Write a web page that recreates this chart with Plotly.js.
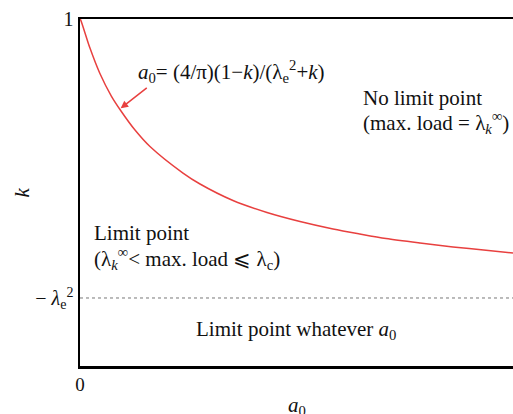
<!DOCTYPE html>
<html>
<head>
<meta charset="utf-8">
<script src="https://cdn.plot.ly/plotly-3.0.1.min.js"></script>
<style>html,body{margin:0;padding:0;background:#fff;}#chart{width:513px;height:414px;}</style>
</head>
<body>
<div id="chart"></div>
<script>
// values
const a0Values = [0, 0.011, 0.148, 0.301, 0.479, 0.627, 0.841, 1.070, 1.575, 1.835, 2.339, 2.859, 3.364, 3.869, 4.281, 4.679, 5.199, 5.703, 6.208, 6.621];
const kValues  = [1, 0.994, 0.837, 0.689, 0.556, 0.470, 0.360, 0.265, 0.112, 0.049, -0.046, -0.115, -0.167, -0.210, -0.239, -0.265, -0.291, -0.314, -0.333, -0.349];
const lambdaE2 = 0.608;        // level of the dotted line (k = -λe²)
const xMax = 6.621;
const yTickVals = [1, -lambdaE2];
const yTickText = ['1', '− <i>λ</i><sub>e</sub><sup>2</sup>'];
const xTickVals = [0];
const xTickText = ['0'];

const FONT = 'Liberation Serif, Times New Roman, serif';
const RED = '#e8403f';
const TXT = 21;

const traces = [
  {x: a0Values, y: kValues, type: 'scatter', mode: 'lines',
   line: {color: RED, width: 1.5, shape: 'spline', smoothing: 0.8}, hoverinfo: 'skip', showlegend: false}
];

const layout = {
  width: 513, height: 414,
  margin: {l: 80, r: 0, t: 19, b: 48},
  paper_bgcolor: '#fff', plot_bgcolor: '#fff',
  font: {family: FONT, size: TXT, color: '#111'},
  showlegend: false,
  xaxis: {range: [0, xMax], showgrid: false, zeroline: false,
          showline: true, linecolor: '#000', linewidth: 2.5, mirror: true,
          tickvals: xTickVals, ticktext: xTickText, ticks: '', ticklen: 0,
          tickfont: {family: FONT, size: 19, color: '#111'}},
  yaxis: {range: [-1, 1], showgrid: false, zeroline: false,
          showline: true, linecolor: '#000', linewidth: 2.5, mirror: false,
          tickvals: yTickVals, ticktext: yTickText, ticks: '', ticklen: 0,
          tickfont: {family: FONT, size: 20, color: '#111'}},
  shapes: [
    {type: 'line', xref: 'paper', x0: 0, x1: 1, yref: 'y', y0: -lambdaE2, y1: -lambdaE2,
     line: {color: '#777', width: 1, dash: 'dot'}}
  ],
  annotations: [
    {xref: 'x', yref: 'y', x: 0.86, y: 0.70, xanchor: 'left', yanchor: 'middle', showarrow: false,
     text: '<i>a</i><sub>0</sub>= (4/π)(1−<i>k</i>)/(λ<sub>e</sub><sup>2</sup>+<i>k</i>)'},
    {xref: 'x', yref: 'y', x: 0.622, y: 0.485, ax: 1.044, ay: 0.61, axref: 'x', ayref: 'y',
     showarrow: true, arrowcolor: RED, arrowwidth: 1.5, arrowhead: 2, arrowsize: 1, text: ''},
    {xref: 'x', yref: 'y', x: 4.30, y: 0.545, xanchor: 'left', yanchor: 'middle', showarrow: false,
     text: 'No limit point'},
    {xref: 'x', yref: 'y', x: 4.30, y: 0.401, xanchor: 'left', yanchor: 'middle', showarrow: false,
     text: '(max. load = λ<sub><i>k</i></sub><sup>∞</sup>)'},
    {xref: 'x', yref: 'y', x: 0.19, y: -0.233, xanchor: 'left', yanchor: 'middle', showarrow: false,
     text: 'Limit point'},
    {xref: 'x', yref: 'y', x: 0.19, y: -0.378, xanchor: 'left', yanchor: 'middle', showarrow: false,
     text: '(λ<sub><i>k</i></sub><sup>∞</sup>< max. load ⩽ λ<sub>c</sub>)'},
    {xref: 'x', yref: 'y', x: 3.30, y: -0.793, xanchor: 'center', yanchor: 'middle', showarrow: false,
     text: 'Limit point whatever <i>a</i><sub>0</sub>'},
    {xref: 'paper', yref: 'paper', x: -0.134, y: 0.5, xanchor: 'center', yanchor: 'middle', showarrow: false,
     textangle: -90, text: '<i>k</i>'},
    {xref: 'paper', yref: 'paper', x: 0.5, y: -0.072, xanchor: 'center', yanchor: 'top', showarrow: false,
     text: '<i>a</i><sub>0</sub>'}
  ]
};

Plotly.newPlot('chart', traces, layout, {staticPlot: true, displayModeBar: false});
</script>
</body>
</html>
